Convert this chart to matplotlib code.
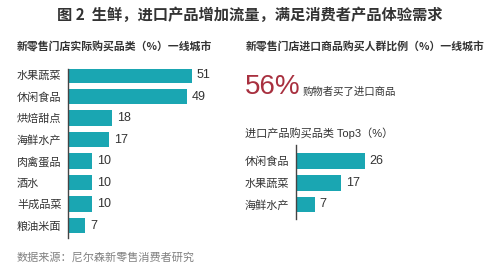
import matplotlib
matplotlib.use("Agg")
import matplotlib.pyplot as plt

plt.rcParams['font.family'] = ['Noto Sans CJK SC', 'DejaVu Sans']
LATIN = ["Liberation Sans", "Noto Sans CJK SC", "DejaVu Sans"]

# data
left_cats = ["水果蔬菜", "休闲食品", "烘焙甜点", "海鲜水产", "肉禽蛋品", "酒水", "半成品菜", "粮油米面"]
left_vals = [51, 49, 18, 17, 10, 10, 10, 7]
right_cats = ["休闲食品", "水果蔬菜", "海鲜水产"]
right_vals = [26, 17, 7]
share = 56

W, H = 499, 268
BAR = "#1aa6b2"
TXT = "#333333"


def px_axes(fig, x0, y_top, x1, y_bot):
    return fig.add_axes([x0 / W, (H - y_bot) / H, (x1 - x0) / W, (y_bot - y_top) / H])


def bar_panel(ax, cats, vals, xmax, top, bottom):
    pos = list(range(len(cats)))
    ax.barh(pos, vals, height=0.72, color=BAR)
    ax.set_xlim(0, xmax)
    ax.set_ylim(bottom, top)
    ax.set_yticks(pos)
    ax.set_yticklabels(cats, fontsize=8, color=TXT, ha="left")
    # labels start 51px left of the axis line
    ax.tick_params(axis="y", length=0, pad=51 * 0.72)
    ax.set_xticks([])
    for s in ["top", "right", "bottom"]:
        ax.spines[s].set_visible(False)
    ax.spines["left"].set_color("#444444")
    ax.spines["left"].set_linewidth(1)
    ax.patch.set_alpha(0)
    for p, v in zip(pos, vals):
        ax.annotate(str(v), (v, p), xytext=(3.5, 0), textcoords="offset points",
                    va="center", ha="left", fontsize=9, color=TXT, family=LATIN)


fig = plt.figure(figsize=(W / 100, H / 100), dpi=100)
fig.patch.set_facecolor("white")

fig.text(0.5, 1 - 15 / H, "图 2  生鲜，进口产品增加流量，满足消费者产品体验需求",
         ha="center", va="center", fontsize=11, fontweight="bold", color=TXT)
fig.text(17 / W, 1 - 47 / H, "新零售门店实际购买品类（%）一线城市",
         ha="left", va="center", fontsize=7.8, fontweight="bold", color=TXT)
fig.text(246 / W, 1 - 47 / H, "新零售门店进口商品购买人群比例（%）一线城市",
         ha="left", va="center", fontsize=7.8, fontweight="bold", color=TXT)

ax1 = px_axes(fig, 68, 69, 198, 238)
bar_panel(ax1, left_cats, left_vals, 130 / 2.43, -0.28, 7.58)

fig.text(245 / W, 1 - 87 / H, f"{share}%", ha="left", va="center",
         fontsize=20, color="#a8303f", family=["Liberation Sans", "DejaVu Sans"])
fig.text(303 / W, 1 - 92 / H, "购物者买了进口商品", ha="left", va="center",
         fontsize=7.5, color=TXT)
fig.text(245 / W, 1 - 133 / H, "进口产品购买品类 Top3（%）", ha="left", va="center",
         fontsize=8, color=TXT, family=LATIN)

ax2 = px_axes(fig, 296, 145, 396, 219)
bar_panel(ax2, right_cats, right_vals, 100 / 2.65, -0.74, 2.67)

fig.text(17 / W, 1 - 257 / H, "数据来源：尼尔森新零售消费者研究", ha="left", va="center",
         fontsize=8, color="#808080")

fig.savefig("out.png", dpi=100)
